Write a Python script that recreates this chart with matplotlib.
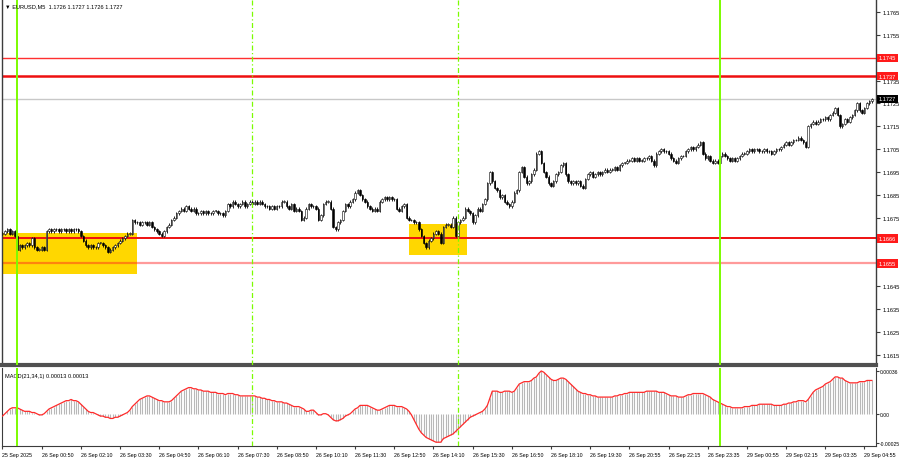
import matplotlib
matplotlib.use("Agg")
import matplotlib.pyplot as plt
from matplotlib.patches import Rectangle
import numpy as np

# EURUSD M5 closes, one per bar
closes = [
    1.1668, 1.1669, 1.1670, 1.1668, 1.1669, 1.1667, 1.1661, 1.1663, 1.1662, 1.1663,
    1.1664, 1.1663, 1.1666, 1.1662, 1.1661, 1.1661, 1.1662, 1.1661, 1.1669, 1.1670,
    1.1669, 1.1670, 1.1670, 1.1669, 1.1670, 1.1670, 1.1669, 1.1670, 1.1669, 1.1670,
    1.1670, 1.1669, 1.1667, 1.1665, 1.1663, 1.1662, 1.1663, 1.1662, 1.1662, 1.1664,
    1.1664, 1.1663, 1.1662, 1.1660, 1.1661, 1.1662, 1.1663, 1.1664, 1.1665, 1.1666,
    1.1667, 1.1668, 1.1668, 1.1674, 1.1673, 1.1673, 1.1672, 1.1673, 1.1673, 1.1672,
    1.1673, 1.1671, 1.1670, 1.1669, 1.1668, 1.1667, 1.1669, 1.1671, 1.1672, 1.1674,
    1.1675, 1.1677, 1.1678, 1.1679, 1.1678, 1.1680, 1.1679, 1.1678, 1.1679, 1.1677,
    1.1677, 1.1678, 1.1677, 1.1678, 1.1677, 1.1677, 1.1678, 1.1678, 1.1677, 1.1677,
    1.1676, 1.1678, 1.1681, 1.1680, 1.1682, 1.1681, 1.1680, 1.1681, 1.1682, 1.1680,
    1.1681, 1.1682, 1.1681, 1.1682, 1.1681, 1.1682, 1.1681, 1.1680, 1.1680, 1.1679,
    1.1680, 1.1679, 1.1680, 1.1680, 1.1682, 1.1682, 1.1680, 1.1679, 1.1681, 1.1678,
    1.1679, 1.1678, 1.1674, 1.1675, 1.1679, 1.1681, 1.1680, 1.1680, 1.1679, 1.1674,
    1.1676, 1.1681, 1.1682, 1.1682, 1.1679, 1.1671, 1.1670, 1.1673, 1.1674, 1.1678,
    1.1681, 1.1680, 1.1682, 1.1683, 1.1686, 1.1687, 1.1685, 1.1683, 1.1682, 1.1680,
    1.1679, 1.1678, 1.1679, 1.1678, 1.1682, 1.1683, 1.1684, 1.1683, 1.1684, 1.1683,
    1.1683, 1.1679, 1.1678, 1.1680, 1.1681, 1.1675, 1.1674, 1.1674, 1.1673, 1.1673,
    1.1670, 1.1667, 1.1664, 1.1662, 1.1665, 1.1666, 1.1668, 1.1669, 1.1668, 1.1664,
    1.1671, 1.1672, 1.1672, 1.1671, 1.1675, 1.1667, 1.1673, 1.1674, 1.1675, 1.1679,
    1.1678, 1.1677, 1.1673, 1.1676, 1.1679, 1.1678, 1.1681, 1.1683, 1.1690, 1.1695,
    1.1691, 1.1688, 1.1687, 1.1684, 1.1685, 1.1682, 1.1681, 1.1680, 1.1682, 1.1686,
    1.1687, 1.1695, 1.1697, 1.1693, 1.1690, 1.1691, 1.1694, 1.1696, 1.1703, 1.1704,
    1.1699, 1.1695, 1.1693, 1.1690, 1.1689, 1.1691, 1.1694, 1.1695, 1.1698, 1.1699,
    1.1694, 1.1691, 1.1690, 1.1691, 1.1690, 1.1691, 1.1689, 1.1688, 1.1692, 1.1694,
    1.1695, 1.1693, 1.1694, 1.1695, 1.1694, 1.1695, 1.1696, 1.1695, 1.1696, 1.1696,
    1.1697, 1.1696, 1.1698, 1.1699, 1.1699, 1.1700, 1.1700, 1.1701, 1.1700, 1.1701,
    1.1700, 1.1700, 1.1701, 1.1701, 1.1702, 1.1700, 1.1698, 1.1703, 1.1704, 1.1705,
    1.1704, 1.1704, 1.1703, 1.1701, 1.1700, 1.1699, 1.1701, 1.1702, 1.1702, 1.1704,
    1.1705, 1.1706, 1.1705, 1.1706, 1.1707, 1.1708, 1.1703, 1.1701, 1.1702, 1.1700,
    1.1699, 1.1700, 1.1699, 1.1702, 1.1703, 1.1702, 1.1701, 1.1700, 1.1701, 1.1700,
    1.1701, 1.1702, 1.1703, 1.1703, 1.1704, 1.1705, 1.1704, 1.1705, 1.1705, 1.1704,
    1.1704, 1.1705, 1.1704, 1.1704, 1.1703, 1.1704, 1.1705, 1.1705, 1.1706, 1.1707,
    1.1708, 1.1707, 1.1708, 1.1709, 1.1709, 1.1710, 1.1709, 1.1708, 1.1706, 1.1715,
    1.1716, 1.1717, 1.1716, 1.1717, 1.1718, 1.1718, 1.1719, 1.1718, 1.1720, 1.1721,
    1.1723, 1.1720, 1.1715, 1.1716, 1.1718, 1.1717, 1.1719, 1.1720, 1.1722, 1.1725,
    1.1722, 1.1721, 1.1723, 1.1725, 1.1726, 1.1727,
]

# MACD(21,34,1) per bar, in units of 0.00001
macd = [
    -2, 0, 2, 4, 5, 5, 5, 4, 3, 2,
    2, 2, 1, 1, 0, -1, -1, 0, 2, 4,
    5, 6, 7, 8, 9, 10, 11, 11, 12, 11,
    11, 10, 8, 6, 4, 2, 1, 1, 0, -1,
    -2, -2, -3, -3, -4, -4, -3, -3, -2, -1,
    0, 1, 3, 6, 8, 10, 12, 13, 14, 15,
    15, 14, 13, 12, 11, 11, 10, 10, 10, 11,
    13, 15, 17, 19, 20, 21, 22, 22, 21, 21,
    20, 20, 19, 19, 19, 18, 18, 18, 17, 17,
    17, 16, 17, 17, 17, 16, 16, 15, 15, 15,
    15, 15, 15, 15, 14, 14, 13, 13, 12, 12,
    11, 11, 10, 10, 10, 9, 9, 8, 7, 6,
    6, 6, 5, 4, 2, 2, 3, 3, 1, -1,
    -1, 0, 0, -1, -3, -5, -6, -6, -5, -4,
    -2, -1, 0, 2, 4, 5, 7, 7, 7, 7,
    6, 5, 4, 3, 3, 4, 5, 6, 7, 7,
    7, 6, 6, 6, 5, 4, 2, -1, -5, -9,
    -13, -16, -18, -20, -21, -22, -23, -24, -24, -24,
    -21, -20, -19, -18, -17, -15, -13, -11, -9, -7,
    -5, -3, -2, -1, 0, 1, 2, 4, 7, 13,
    19, 19, 19, 18, 18, 19, 19, 19, 18, 19,
    22, 25, 26, 27, 27, 27, 28, 30, 31, 34,
    36, 35, 33, 31, 29, 28, 28, 29, 30, 30,
    29, 27, 25, 23, 21, 19, 18, 17, 17, 16,
    16, 15, 15, 14, 14, 14, 14, 14, 14, 14,
    15, 15, 16, 16, 17, 17, 18, 18, 18, 18,
    18, 18, 18, 19, 19, 19, 19, 19, 18, 18,
    18, 17, 16, 15, 15, 15, 14, 14, 14, 15,
    16, 16, 17, 17, 17, 17, 17, 16, 15, 14,
    12, 11, 10, 9, 8, 7, 6, 6, 5, 5,
    5, 5, 5, 6, 6, 6, 7, 7, 7, 8,
    8, 8, 8, 8, 8, 7, 7, 7, 7, 8,
    8, 9, 9, 10, 10, 11, 11, 11, 10, 12,
    15, 18, 20, 21, 22, 23, 25, 26, 27, 29,
    31, 31, 30, 30, 28, 27, 26, 26, 26, 26,
    27, 27, 27, 28, 28, 28,
]

time_labels = ["25 Sep 2025", "26 Sep 00:50", "26 Sep 02:10", "26 Sep 03:30",
               "26 Sep 04:50", "26 Sep 06:10", "26 Sep 07:30", "26 Sep 08:50",
               "26 Sep 10:10", "26 Sep 11:30", "26 Sep 12:50", "26 Sep 14:10",
               "26 Sep 15:30", "26 Sep 16:50", "26 Sep 18:10", "26 Sep 19:30",
               "26 Sep 20:55", "26 Sep 22:15", "26 Sep 23:35", "29 Sep 00:55",
               "29 Sep 02:15", "29 Sep 03:35", "29 Sep 04:55"]
label_step = 16

price_ticks = [1.1615, 1.1625, 1.1635, 1.1645, 1.1655, 1.1665, 1.1675, 1.1685,
               1.1695, 1.1705, 1.1715, 1.1725, 1.1735, 1.1745, 1.1755, 1.1765]
levels = [1.1745, 1.1737, 1.1666, 1.1655]
last_price = 1.1727
# yellow zones: first bar, last bar, low, high
zones = [(-0.2, 55.1, 1.16504, 1.16684), (165.8, 189.5, 1.16588, 1.16723)]
day_lines = [6, 293]
session_lines = [102, 186]
macd_ticks = [0.00036, 0.0, -0.00025]
macd_tick_labels = ["0.00036", "0.00", "-0.00025"]

FONT = ['Liberation Sans', 'DejaVu Sans']
FS = 4.1
GREEN = '#7CFC00'
FRAME = '#3c3c3c'
WICK = 0.00006   # drawn wick length past the body

c = np.array(closes)
o = np.r_[c[0], c[:-1]]
x = np.arange(len(c))
m = np.array(macd) * 1e-5

fig = plt.figure(figsize=(9, 4.6), dpi=100)
ax = fig.add_axes([2/900, 1-366/460, 874/900, 366/460])
axm = fig.add_axes([2/900, 1-447/460, 874/900, 78/460])

# price pane
for x0, x1, lo, hi in zones:
    ax.add_patch(Rectangle((x0, lo), x1-x0, hi-lo, facecolor='#FFD700', edgecolor='none', zorder=1))

ax.axhline(last_price, color='#c8c8c8', lw=1, zorder=2)
ax.axhline(levels[0], color='#ff3030', lw=1, zorder=2)
ax.axhline(levels[1], color='#ee1010', lw=1.8, zorder=2)
ax.axhline(levels[2], color='#ee1010', lw=1.4, zorder=2)
ax.axhline(levels[3], color='#ff2020', lw=1.6, alpha=0.45, zorder=2)

lo_b = np.minimum(o, c)
hi_b = np.maximum(o, c)
ax.vlines(x, lo_b - WICK, hi_b + WICK, color='black', lw=0.6, zorder=3)
up = c >= o
h = np.maximum(hi_b - lo_b, 0.00002)
ax.bar(x[up], h[up], bottom=lo_b[up], width=0.6, facecolor='white',
       edgecolor='black', linewidth=0.4, zorder=4)
ax.bar(x[~up], h[~up], bottom=lo_b[~up], width=0.6, facecolor='black',
       edgecolor='black', linewidth=0.4, zorder=4)

ax.set_xlim(-0.2, 356.7)
ax.set_ylim(1.16106, 1.17707)
ax.set_xticks([])
ax.yaxis.tick_right()
ax.set_yticks(price_ticks)
# ticks hidden behind a level box get no label of their own
covered = [1.1745, 1.1665, 1.1655]
ax.set_yticklabels(["" if any(abs(v - cv) < 1e-6 for cv in covered) else f"{v:.4f}"
                    for v in price_ticks], family=FONT, fontsize=FS)
ax.tick_params(axis='y', length=3, pad=1.5, color=FRAME)
for s in ['left', 'right']:
    ax.spines[s].set_color(FRAME)
    ax.spines[s].set_linewidth(1)
ax.spines['top'].set_visible(False)
ax.spines['bottom'].set_color('#505050')
ax.spines['bottom'].set_linewidth(3)

tr = ax.get_yaxis_transform()
for lv in levels:
    ax.text(1.003, lv, f"{lv:.4f}", transform=tr, family=FONT, fontsize=FS, color='white',
            va='center', ha='left', zorder=6,
            bbox=dict(boxstyle='square,pad=0.3', fc='#ff1a1a', ec='none'))
ax.text(1.003, last_price, f"{last_price:.4f}", transform=tr, family=FONT, fontsize=FS,
        color='white', va='center', ha='left', zorder=6,
        bbox=dict(boxstyle='square,pad=0.3', fc='black', ec='none'))

fig.text(5/900, 1-7/460, "▼ EURUSD,M5  1.1726 1.1727 1.1726 1.1727",
         family=FONT, fontsize=FS, va='center', ha='left')

# MACD pane
axm.vlines(x, 0, m, color='#b8b8b8', lw=0.8, zorder=2)
axm.plot(x, m, color='#ff2a2a', lw=0.9, zorder=3)
axm.set_xlim(-0.2, 356.7)
axm.set_ylim(-0.000272, 0.000385)
axm.yaxis.tick_right()
axm.set_yticks(macd_ticks)
axm.set_yticklabels(macd_tick_labels, family=FONT, fontsize=3.6)
tick_pos = [label_step * k for k in range(len(time_labels))]
axm.set_xticks(tick_pos)
axm.set_xticklabels(time_labels, family=FONT, fontsize=3.8, ha='left')
axm.tick_params(axis='x', length=2.5, pad=1.5, color=FRAME)
axm.tick_params(axis='y', length=2, pad=1, color=FRAME)
for s in ['left', 'right', 'bottom']:
    axm.spines[s].set_color(FRAME)
axm.spines['top'].set_visible(False)
axm.text(0.003, 0.94, "MACD(21,34,1) 0.00013 0.00013", transform=axm.transAxes,
         family=FONT, fontsize=FS, va='top', ha='left')

for a in (ax, axm):
    for b in day_lines:
        a.axvline(b, color=GREEN, lw=1.4, zorder=5)
    for b in session_lines:
        a.axvline(b, color=GREEN, lw=0.9, linestyle=(0, (4, 2, 1, 2)), zorder=5)

fig.savefig("out.png", dpi=100)
